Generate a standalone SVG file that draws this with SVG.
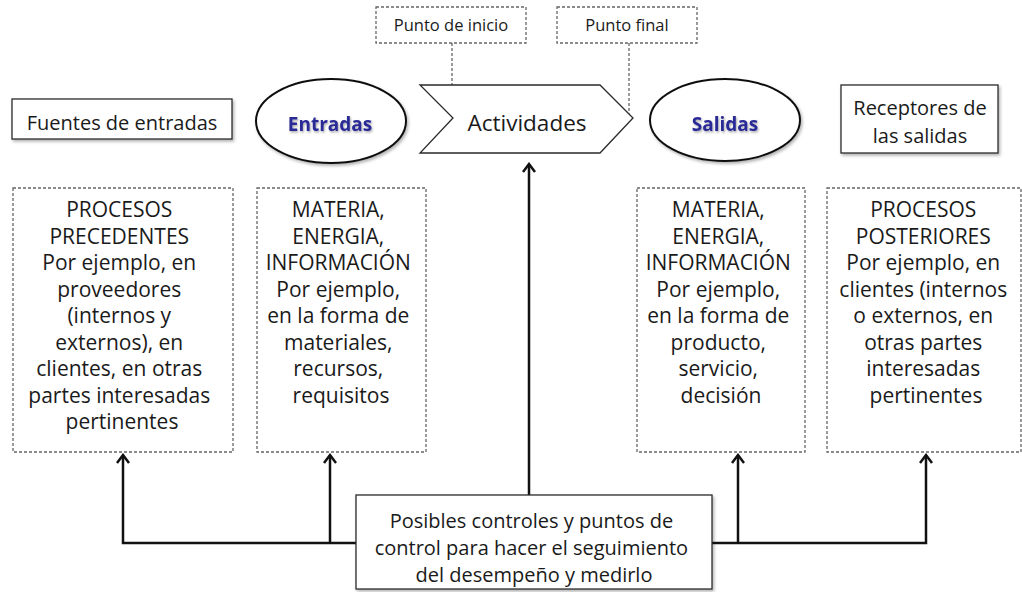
<svg xmlns="http://www.w3.org/2000/svg" width="1022" height="592" viewBox="0 0 1022 592">
<defs>
<style>
.t{font-family:"Open Sans","Liberation Sans",sans-serif;fill:#1a1a1a;text-anchor:middle}
.bx{font-size:21px}
.lb{font-size:20px}
.sm{font-size:16.5px}
.el{font-family:"Open Sans","Liberation Sans",sans-serif;font-weight:bold;font-size:19px;fill:#2a2a96;text-anchor:middle}
.solid{fill:#fff;stroke:#2a2a2a;stroke-width:1.3}
.dash{fill:#fff;stroke:#666;stroke-width:1.3;stroke-dasharray:3 2}
.dl{fill:none;stroke:#666;stroke-width:1.3;stroke-dasharray:3 2}
.ln{fill:none;stroke:#111;stroke-width:2.5}
</style>
<filter id="sh" x="-20%" y="-20%" width="140%" height="150%">
<feDropShadow dx="1.5" dy="2" stdDeviation="1.5" flood-color="#000" flood-opacity="0.3"/>
</filter>
<filter id="tsh" x="-20%" y="-30%" width="140%" height="170%">
<feDropShadow dx="1" dy="1.5" stdDeviation="1" flood-color="#000" flood-opacity="0.35"/>
</filter>
<marker id="arr" viewBox="-10 -8 12 16" refX="0" refY="0" markerWidth="12" markerHeight="16" markerUnits="userSpaceOnUse" orient="auto">
<path d="M-8,-6 L0,0 L-8,6" fill="none" stroke="#111" stroke-width="2.5"/>
</marker>
</defs>
<rect width="1022" height="592" fill="#fff"/>

<g id="connectors">
<path class="dl" d="M452,43 V118"/>
<path class="dl" d="M629,43 V118"/>
<path class="ln" d="M356,543 H123 V455" marker-end="url(#arr)"/>
<path class="ln" d="M330,543 V455" marker-end="url(#arr)"/>
<path class="ln" d="M712,543 H926 V455" marker-end="url(#arr)"/>
<path class="ln" d="M738,543 V455" marker-end="url(#arr)"/>
<path class="ln" d="M529,495 V164" marker-end="url(#arr)"/>
</g>

<g id="punto-inicio">
<rect class="dash" x="376" y="7" width="150" height="36"/>
<text class="t sm" x="451" y="31">Punto de inicio</text>
</g>

<g id="punto-final">
<rect class="dash" x="557" y="7" width="140" height="36"/>
<text class="t sm" x="627" y="31">Punto final</text>
</g>

<g id="fuentes">
<rect class="solid" x="12" y="99" width="220" height="40" filter="url(#sh)"/>
<text class="t lb" x="122" y="130">Fuentes de entradas</text>
</g>

<g id="entradas">
<ellipse class="solid" cx="331" cy="121" rx="75" ry="42" style="stroke:#111;stroke-width:2" filter="url(#sh)"/>
<text class="el" x="330" y="131" filter="url(#tsh)">Entradas</text>
</g>

<g id="actividades">
<polygon class="solid" points="420,85 600,85 633,118 600,153 420,153 453,118"/>
<text class="t" style="font-size:22.5px" x="527" y="131">Actividades</text>
</g>

<g id="salidas">
<ellipse class="solid" cx="725" cy="120" rx="75" ry="41" style="stroke:#111;stroke-width:2" filter="url(#sh)"/>
<text class="el" x="725" y="131" filter="url(#tsh)">Salidas</text>
</g>

<g id="receptores">
<rect class="solid" x="841" y="85" width="157" height="68" filter="url(#sh)"/>
<text class="t lb" x="920" y="115">Receptores de</text>
<text class="t lb" x="920" y="143">las salidas</text>
</g>

<g id="procesos-precedentes">
<rect class="dash" x="13" y="188" width="220" height="264"/>
<text class="t bx" x="122">
<tspan x="122" y="217">PROCESOS</tspan>
<tspan x="122" y="243.5">PRECEDENTES</tspan>
<tspan x="122" y="270">Por ejemplo, en</tspan>
<tspan x="122" y="296.5">proveedores</tspan>
<tspan x="122" y="323">(internos y</tspan>
<tspan x="122" y="349.5">externos), en</tspan>
<tspan x="122" y="376">clientes, en otras</tspan>
<tspan x="122" y="402.5">partes interesadas</tspan>
<tspan x="122" y="429">pertinentes</tspan>
</text>
</g>

<g id="materia-entradas">
<rect class="dash" x="257" y="188" width="169" height="264"/>
<text class="t bx" x="341">
<tspan x="341" y="217">MATERIA,</tspan>
<tspan x="341" y="243.5">ENERGIA,</tspan>
<tspan x="341" y="270">INFORMACIÓN</tspan>
<tspan x="341" y="296.5">Por ejemplo,</tspan>
<tspan x="341" y="323">en la forma de</tspan>
<tspan x="341" y="349.5">materiales,</tspan>
<tspan x="341" y="376">recursos,</tspan>
<tspan x="341" y="402.5">requisitos</tspan>
</text>
</g>

<g id="materia-salidas">
<rect class="dash" x="637" y="188" width="168" height="264"/>
<text class="t bx" x="721">
<tspan x="721" y="217">MATERIA,</tspan>
<tspan x="721" y="243.5">ENERGIA,</tspan>
<tspan x="721" y="270">INFORMACIÓN</tspan>
<tspan x="721" y="296.5">Por ejemplo,</tspan>
<tspan x="721" y="323">en la forma de</tspan>
<tspan x="721" y="349.5">producto,</tspan>
<tspan x="721" y="376">servicio,</tspan>
<tspan x="721" y="402.5">decisión</tspan>
</text>
</g>

<g id="procesos-posteriores">
<rect class="dash" x="827" y="188" width="194" height="264"/>
<text class="t bx" x="926">
<tspan x="926" y="217">PROCESOS</tspan>
<tspan x="926" y="243.5">POSTERIORES</tspan>
<tspan x="926" y="270">Por ejemplo, en</tspan>
<tspan x="926" y="296.5">clientes (internos</tspan>
<tspan x="926" y="323">o externos, en</tspan>
<tspan x="926" y="349.5">otras partes</tspan>
<tspan x="926" y="376">interesadas</tspan>
<tspan x="926" y="402.5">pertinentes</tspan>
</text>
</g>

<g id="controles">
<rect class="solid" x="356" y="495" width="356" height="94" filter="url(#sh)"/>
<text class="t lb" x="534">
<tspan x="534" y="528">Posibles controles y puntos de</tspan>
<tspan x="534" y="555">control para hacer el seguimiento</tspan>
<tspan x="534" y="582">del desempeño y medirlo</tspan>
</text>
</g>
</svg>
